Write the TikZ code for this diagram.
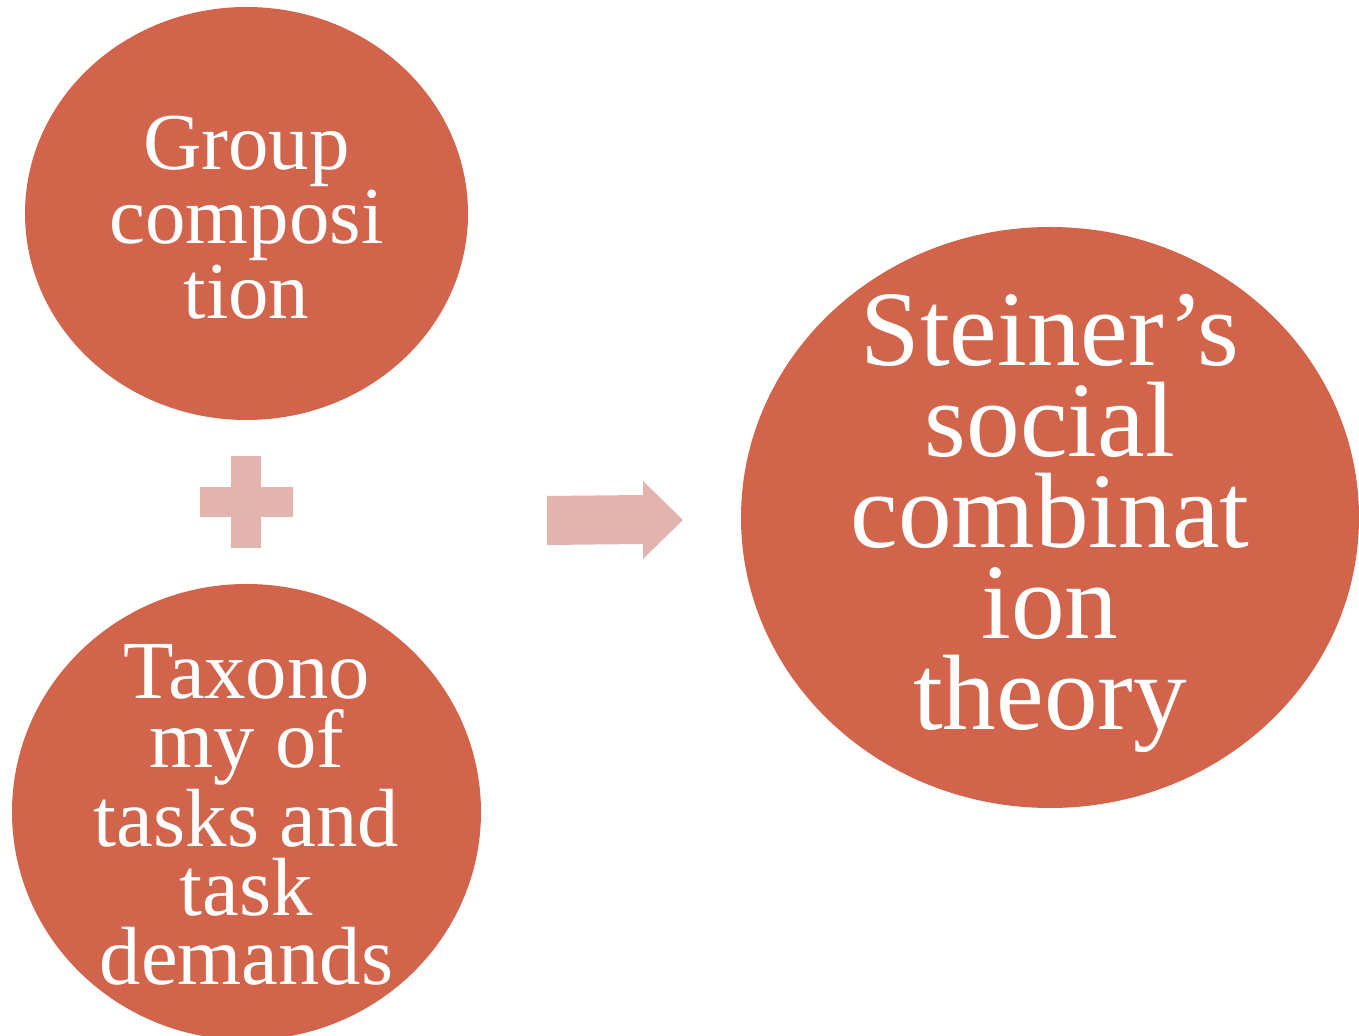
\documentclass[tikz,border=0pt]{standalone}
\usepackage{fontspec}
\setmainfont{Liberation Serif}
\usetikzlibrary{shapes.geometric}
\definecolor{flowred}{HTML}{D1644B}
\definecolor{flowpink}{HTML}{E3B4AE}

\begin{document}
\begin{tikzpicture}[
    blob/.style={ellipse, fill=flowred, inner sep=0pt},
    blobtext/.style={text=white, align=center, inner sep=0pt}
  ]
  \useasboundingbox (0,0) rectangle (13.59,10.36);

  % Left side: the two inputs
  \node[blob, minimum width=4.43cm, minimum height=4.13cm] (grp) at (2.465,8.225) {};
  \node[blobtext, font=\fontsize{23}{19.3}\selectfont] (grpT) at ([yshift=-0.04cm]grp.center)
    {Group\\composi\\tion};

  \node[blob, minimum width=4.69cm, minimum height=4.56cm] (tax) at (2.465,2.24) {};
  \node[blobtext, font=\fontsize{23.5}{19.6}\selectfont] (taxT) at ([yshift=-0.03cm]tax.center)
    {Taxono\\my of\\tasks and\\task\\demands};

  % Plus sign between them
  \fill[flowpink] (2.00,5.19) rectangle (2.93,5.49);
  \fill[flowpink] (2.31,4.88) rectangle (2.61,5.80);

  % Arrow towards the result
  \fill[flowpink] (5.47,5.40) -- (6.43,5.41) -- (6.43,5.55) -- (6.83,5.16)
    -- (6.43,4.77) -- (6.43,4.92) -- (5.47,4.91) -- cycle;

  % Right side: result
  \node[blob, minimum width=6.18cm, minimum height=5.81cm] (sct) at (10.50,5.185) {};
  \node[blobtext, font=\fontsize{30.5}{25.9}\selectfont] (sctT) at ([yshift=-0.06cm]sct.center)
    {Steiner’s\\social\\combinat\\ion\\theory};

\end{tikzpicture}
\end{document}
